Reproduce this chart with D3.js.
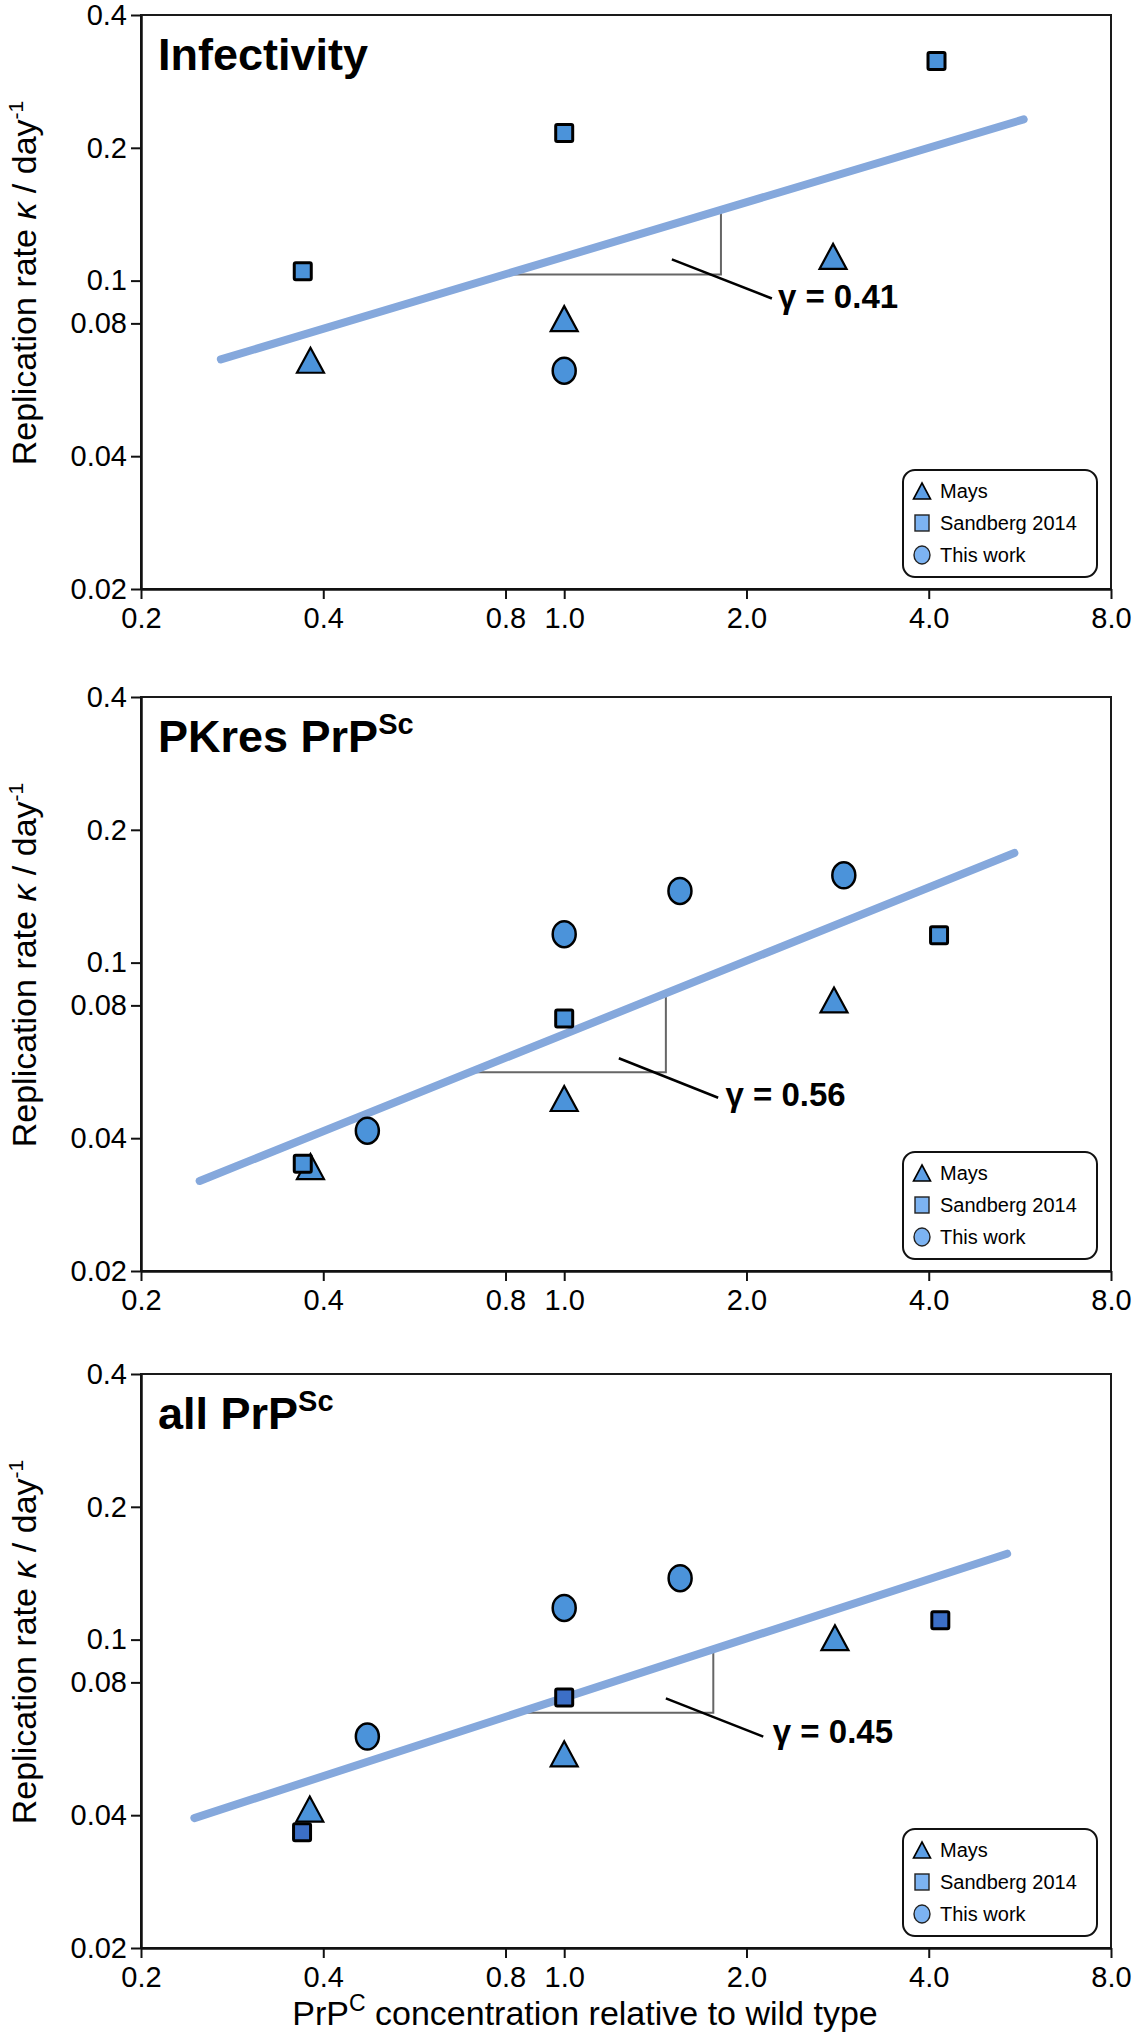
<!DOCTYPE html>
<html><head><meta charset="utf-8">
<script src="https://cdn.jsdelivr.net/npm/d3@7"></script>
<style>
body{margin:0;background:#fff}
svg{display:block}
text{font-family:"Liberation Sans",Arial,Helvetica,sans-serif;fill:#000}
</style>
</head><body>
<svg id="chart" width="1138" height="2040"></svg>
<script>
// ---------- shared axis data ----------
const xTicks = [0.2, 0.4, 0.8, 1.0, 2.0, 4.0, 8.0];
const xTickLabels = ["0.2", "0.4", "0.8", "1.0", "2.0", "4.0", "8.0"];
const yTicks = [0.02, 0.04, 0.08, 0.1, 0.2, 0.4];
const yTickLabels = ["0.02", "0.04", "0.08", "0.1", "0.2", "0.4"];
const seriesNames = ["Mays", "Sandberg 2014", "This work"];

// ---------- panel 1: Infectivity ----------
const infMaysX = [0.381, 1.0, 2.78];
const infMaysY = [0.066, 0.082, 0.1135];
const infSandX = [0.370, 1.0, 4.12];
const infSandY = [0.105, 0.216, 0.3145];
const infThisX = [1.0];
const infThisY = [0.0625];
const infFitX = [0.271, 5.74];
const infFitY = [0.0663, 0.232];
const infSlopeX = [0.80, 1.815];      // horizontal start, vertical position
const infSlopeY = [0.1033, 0.1447];   // horizontal level, vertical top
const infLeaderX = [1.506, 2.203];
const infLeaderY = [0.1117, 0.0911];
const infGammaPos = [2.254, 0.0869];
const infGamma = "0.41";

// ---------- panel 2: PKres PrPSc ----------
const pkMaysX = [0.381, 1.0, 2.79];
const pkMaysY = [0.0345, 0.0492, 0.0823];
const pkSandX = [0.370, 1.0, 4.16];
const pkSandY = [0.035, 0.0747, 0.1153];
const pkThisX = [0.473, 1.0, 1.553, 2.896];
const pkThisY = [0.0416, 0.116, 0.1454, 0.1577];
const pkFitX = [0.25, 5.54];
const pkFitY = [0.032, 0.1772];
const pkSlopeX = [0.71, 1.472];
const pkSlopeY = [0.0564, 0.0845];
const pkLeaderX = [1.231, 1.796];
const pkLeaderY = [0.0607, 0.0494];
const pkGammaPos = [1.847, 0.0474];
const pkGamma = "0.56";

// ---------- panel 3: all PrPSc ----------
const allMaysX = [0.38, 1.0, 2.8];
const allMaysY = [0.0413, 0.0551, 0.101];
const allSandX = [0.369, 1.0, 4.18];
const allSandY = [0.0366, 0.0739, 0.1107];
const allThisX = [0.473, 1.0, 1.554];
const allThisY = [0.0603, 0.118, 0.1378];
const allFitX = [0.245, 5.39];
const allFitY = [0.0394, 0.1566];
const allSlopeX = [0.86, 1.763];
const allSlopeY = [0.0683, 0.094];
const allLeaderX = [1.472, 2.132];
const allLeaderY = [0.0736, 0.0603];
const allGammaPos = [2.211, 0.0583];
const allGamma = "0.45";

const panels = [
  {title: "Infectivity", sup: null, mays: [infMaysX, infMaysY], sand: [infSandX, infSandY], self: [infThisX, infThisY],
   fit: [infFitX, infFitY], slope: [infSlopeX, infSlopeY], leader: [infLeaderX, infLeaderY], gpos: infGammaPos, gamma: infGamma, sandDark: false},
  {title: "PKres PrP", sup: "Sc", mays: [pkMaysX, pkMaysY], sand: [pkSandX, pkSandY], self: [pkThisX, pkThisY],
   fit: [pkFitX, pkFitY], slope: [pkSlopeX, pkSlopeY], leader: [pkLeaderX, pkLeaderY], gpos: pkGammaPos, gamma: pkGamma, sandDark: false},
  {title: "all PrP", sup: "Sc", mays: [allMaysX, allMaysY], sand: [allSandX, allSandY], self: [allThisX, allThisY],
   fit: [allFitX, allFitY], slope: [allSlopeX, allSlopeY], leader: [allLeaderX, allLeaderY], gpos: allGammaPos, gamma: allGamma, sandDark: true}
];

// ---------- layout ----------
const plotLeft = 141, plotRight = 1111;
const panelTops = [15, 697, 1374];
const panelH = 574;

const svg = d3.select("#chart");
const zip = (a, b) => a.map((v, i) => [v, b[i]]);

const markerFill = "#4b93da";
const sandFillDark = "#3c6fc6";
const fitColor = "#85a8dc";

panels.forEach((p, pi) => {
  const top = panelTops[pi];
  const bottom = top + panelH;
  const x = d3.scaleLog().domain([0.2, 8]).range([plotLeft, plotRight]);
  const y = d3.scaleLog().domain([0.02, 0.4]).range([bottom, top]);
  const g = svg.append("g");

  // frame
  g.append("rect").attr("x", plotLeft).attr("y", top)
    .attr("width", plotRight - plotLeft).attr("height", panelH)
    .attr("fill", "none").attr("stroke", "#1a1a1a").attr("stroke-width", 2);

  // axes
  const xa = g.append("g").attr("transform", `translate(0,${bottom})`)
    .call(d3.axisBottom(x).tickValues(xTicks).tickFormat((d, i) => xTickLabels[i])
      .tickSize(10).tickSizeOuter(0).tickPadding(8));
  const ya = g.append("g").attr("transform", `translate(${plotLeft},0)`)
    .call(d3.axisLeft(y).tickValues(yTicks).tickFormat((d, i) => yTickLabels[i])
      .tickSize(10).tickSizeOuter(0).tickPadding(4));
  [xa, ya].forEach(a => {
    a.select(".domain").attr("stroke", "#111").attr("stroke-width", 2.5);
    a.selectAll(".tick line").attr("stroke", "#111").attr("stroke-width", 2);
    a.selectAll(".tick text").attr("font-size", 29).attr("fill", "#000")
      .style("font-family", '"Liberation Sans", Arial, sans-serif');
  });

  // y-axis title
  const yt = g.append("text")
    .attr("transform", `translate(36,${(top + bottom) / 2 - 19}) rotate(-90)`)
    .attr("text-anchor", "middle").attr("font-size", 34);
  yt.append("tspan").text("Replication rate ");
  yt.append("tspan").attr("font-style", "italic").text("κ");
  yt.append("tspan").text(" / day");
  yt.append("tspan").attr("font-size", 21).attr("dy", -13).text("-1");

  // panel title
  const tt = g.append("text").attr("x", 158).attr("y", top + 55)
    .attr("font-size", 45).attr("font-weight", "bold");
  tt.append("tspan").text(p.title);
  if (p.sup) tt.append("tspan").attr("font-size", 29).attr("dy", -18).text(p.sup);

  // slope triangle
  const [sx, sy] = p.slope;
  g.append("path")
    .attr("d", d3.line()([[x(sx[0]), y(sy[0])], [x(sx[1]), y(sy[0])], [x(sx[1]), y(sy[1])]]))
    .attr("fill", "none").attr("stroke", "#666").attr("stroke-width", 2);

  // fit line
  g.append("path")
    .attr("d", d3.line().x(d => x(d[0])).y(d => y(d[1]))(zip(p.fit[0], p.fit[1])))
    .attr("fill", "none").attr("stroke", fitColor).attr("stroke-width", 8)
    .attr("stroke-linecap", "round");

  // leader + gamma label
  g.append("path")
    .attr("d", d3.line().x(d => x(d[0])).y(d => y(d[1]))(zip(p.leader[0], p.leader[1])))
    .attr("stroke", "#000").attr("stroke-width", 2.5);
  g.append("text").attr("x", x(p.gpos[0])).attr("y", y(p.gpos[1]))
    .attr("font-size", 33).attr("font-weight", "bold")
    .text("γ = " + p.gamma);

  // markers: Mays triangles
  const tri = (cx, cy, w, h) => `M${cx},${cy - h / 2}L${cx + w / 2},${cy + h / 2}L${cx - w / 2},${cy + h / 2}Z`;
  g.selectAll(".mays").data(zip(p.mays[0], p.mays[1])).enter().append("path")
    .attr("d", d => tri(x(d[0]), y(d[1]), 27, 25))
    .attr("fill", markerFill).attr("stroke", "#000").attr("stroke-width", 2.2)
    .attr("stroke-linejoin", "miter");
  // This work circles
  g.selectAll(".self").data(zip(p.self[0], p.self[1])).enter().append("ellipse")
    .attr("cx", d => x(d[0])).attr("cy", d => y(d[1])).attr("rx", 11.5).attr("ry", 13)
    .attr("fill", markerFill).attr("stroke", "#000").attr("stroke-width", 2.5);
  // Sandberg squares
  g.selectAll(".sand").data(zip(p.sand[0], p.sand[1])).enter().append("rect")
    .attr("x", d => x(d[0]) - 8.5).attr("y", d => y(d[1]) - 8.5)
    .attr("width", 17).attr("height", 17).attr("rx", 1.5)
    .attr("fill", p.sandDark ? sandFillDark : markerFill).attr("stroke", "#000").attr("stroke-width", 3);

  // legend
  const lx = 903, lw = 194, lh = 107, ly = bottom - 12 - lh;
  const lg = g.append("g").attr("transform", `translate(${lx},${ly})`);
  lg.append("rect").attr("width", lw).attr("height", lh).attr("rx", 12)
    .attr("fill", "#fff").attr("stroke", "#111").attr("stroke-width", 2);
  const rowY = [21, 53, 85];
  seriesNames.forEach((name, i) => {
    const cy = rowY[i], cx = 19;
    if (i === 0) {
      lg.append("path").attr("d", tri(cx, cy, 17, 16)).attr("fill", "#5d9fe6")
        .attr("stroke", "#000").attr("stroke-width", 1.6);
    } else if (i === 1) {
      lg.append("rect").attr("x", cx - 7).attr("y", cy - 8).attr("width", 14).attr("height", 16)
        .attr("fill", "#7cb3f2").attr("stroke", "#222").attr("stroke-width", 1.4);
    } else {
      lg.append("ellipse").attr("cx", cx).attr("cy", cy).attr("rx", 8).attr("ry", 9)
        .attr("fill", "#7cb3f2").attr("stroke", "#222").attr("stroke-width", 1.4);
    }
    lg.append("text").attr("x", 37).attr("y", cy + 7).attr("font-size", 20).text(name);
  });
});

// x-axis title (bottom)
const xt = svg.append("text").attr("x", 585).attr("y", 2025)
  .attr("text-anchor", "middle").attr("font-size", 34);
xt.append("tspan").text("PrP");
xt.append("tspan").attr("font-size", 23).attr("dy", -14).text("C");
xt.append("tspan").attr("dy", 14).text(" concentration relative to wild type");
</script>
</body></html>
